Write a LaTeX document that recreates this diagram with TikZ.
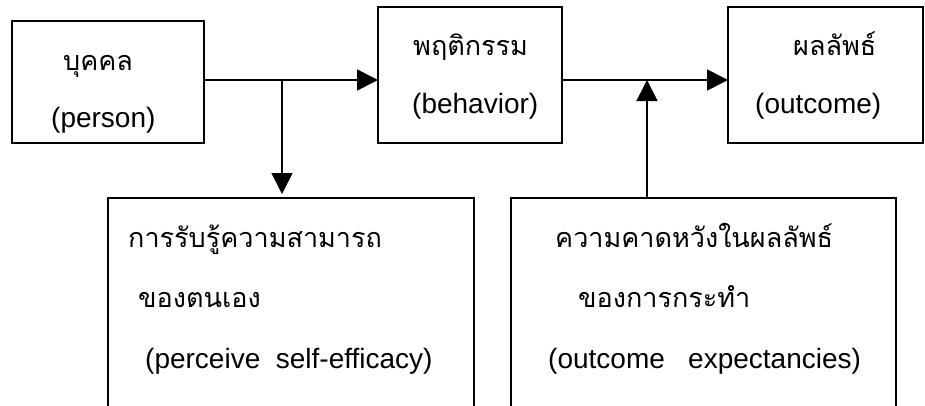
\documentclass[tikz,border=0pt]{standalone}
\usepackage{fontspec}
\setmainfont[Ligatures=CommonOff]{Liberation Sans}
\newfontfamily\thai[Script=Thai]{Loma}
\usetikzlibrary{arrows.meta}
\tikzset{
  box/.style={draw, line width=1.8pt, rectangle, inner sep=0pt, outer sep=0pt},
  conn/.style={line width=1.6pt, -{Triangle[length=21pt,width=21pt]}},
  th/.style={anchor=base west, inner sep=0pt, font=\thai\fontsize{27}{30}\selectfont},
  en/.style={anchor=base west, inner sep=0pt, font=\fontsize{28}{30}\selectfont},
}
\begin{document}
\begin{tikzpicture}[x=1pt,y=-1pt]
\useasboundingbox (0,0) rectangle (925,405);
\clip (0,0) rectangle (925,405);
% boxes
\node[box, minimum width=192pt, minimum height=122pt] (b1) at (108,82) {};
\node[box, minimum width=184pt, minimum height=136pt] (b2) at (470,75) {};
\node[box, minimum width=195pt, minimum height=136pt] (b3) at (825.5,75) {};
\node[box, minimum width=366pt, minimum height=222pt] (b4) at (291,309) {};
\node[box, minimum width=385pt, minimum height=222pt] (b5) at (703.5,309) {};
% texts
\node[th] (t1a) at (63,70) {บุคคล};
\node[en] (t1b) at (51,127) {(person)};
\node[th] (t2a) at (413,55) {พฤติกรรม};
\node[en] (t2b) at (412,113) {(behavior)};
\node[th] (t3a) at (793,55) {ผลลัพธ์};
\node[en] (t3b) at (755,113) {(outcome)};
\node[th] (t4a) at (128,247) {การรับรู้ความสามารถ};
\node[th] (t4b) at (138,307) {ของตนเอง};
\node[en] (t4c) at (145,368) {(perceive\ \ self-efficacy)};
\node[th] (t5a) at (555,247) {ความคาดหวังในผลลัพธ์};
\node[th] (t5b) at (578,307) {ของการกระทำ};
\node[en] (t5c) at (548,368) {(outcome\ \ \ expectancies)};
% junctions
\coordinate (j1) at (282,80);
\coordinate (j2) at (647,80);
% connectors
\draw[conn] (b1.east |- j1) -- (b2.west |- j1);
\draw[conn] (b2.east |- j2) -- (b3.west |- j2);
\draw[conn, shorten >=4pt] (j1) -- (j1 |- b4.north);
\draw[conn] (j2 |- b5.north) -- (j2);
\end{tikzpicture}
\end{document}
